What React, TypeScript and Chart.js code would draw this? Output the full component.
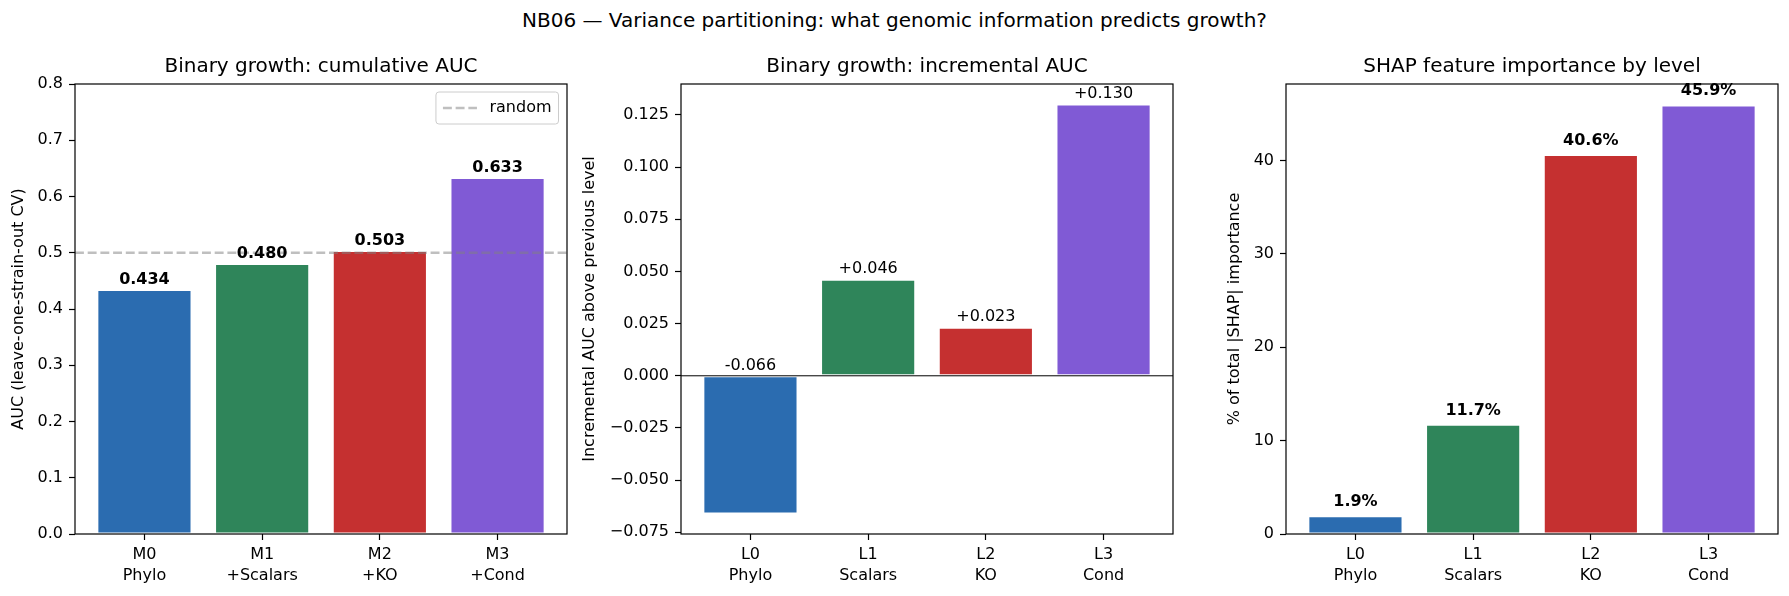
import React, { useEffect, useRef } from "react";
import { Chart, registerables } from "chart.js";

Chart.register(...registerables);

const FONT = '"DejaVu Sans", "Liberation Sans", sans-serif';

const SUPTITLE = "NB06 — Variance partitioning: what genomic information predicts growth?";

// Left panel: cumulative AUC of each nested model
const MODEL_LABELS = ["M0\nPhylo", "M1\n+Scalars", "M2\n+KO", "M3\n+Cond"];
const CUMULATIVE_AUC = [0.434, 0.48, 0.503, 0.633];
const RANDOM_AUC = 0.5;
const AUC_TICKS = [0, 0.1, 0.2, 0.3, 0.4, 0.5, 0.6, 0.7, 0.8];

// Middle panel: AUC gained by each level over the previous one
const LEVEL_LABELS = ["L0\nPhylo", "L1\nScalars", "L2\nKO", "L3\nCond"];
const INCREMENTAL_AUC = [-0.066, 0.046, 0.023, 0.13];
const INCREMENT_TICKS = [-0.075, -0.05, -0.025, 0, 0.025, 0.05, 0.075, 0.1, 0.125];

// Right panel: share of total |SHAP| per feature level
const SHAP_PCT = [1.9, 11.7, 40.6, 45.9];
const SHAP_TICKS = [0, 10, 20, 30, 40];

const LEVEL_COLORS = ["#2B6CB0", "#2F855A", "#C53030", "#805AD5"];

const CANVAS_H = 596;
const TICK_FONT = 16;
const TITLE_FONT = 20;

type RefLine = { y: number; color: string; width: number; dash: number[]; label: string };

type PanelSpec = {
  left: number;
  yAxisWidth: number;
  plotWidth: number;
  yTitlePad: number;
  title: string;
  yTitle: string;
  labels: string[];
  values: number[];
  yMin: number;
  yMax: number;
  yTicks: number[];
  yTickFormat: (v: number) => string;
  valueFormat: (v: number) => string;
  valueBold: boolean;
  valueOffset: number;
  lines: RefLine[];
  legend: boolean;
};

const minusSign = (v: number, digits: number) =>
  (v < -1e-12 ? "\u2212" : "") + Math.abs(v).toFixed(digits);

// matplotlib-style autoscaling with a 5% margin around the data
function paddedRange(vals: number[]) {
  const lo = Math.min(0, ...vals);
  const hi = Math.max(0, ...vals);
  const m = 0.05 * (hi - lo);
  return { lo: lo < 0 ? lo - m : 0, hi: hi + m };
}

const incRange = paddedRange(INCREMENTAL_AUC);
const shapRange = paddedRange(SHAP_PCT);

const PANELS: PanelSpec[] = [
  {
    left: 0,
    yAxisWidth: 75,
    plotWidth: 492,
    yTitlePad: 9.4,
    title: "Binary growth: cumulative AUC",
    yTitle: "AUC (leave-one-strain-out CV)",
    labels: MODEL_LABELS,
    values: CUMULATIVE_AUC,
    yMin: 0,
    yMax: 0.8,
    yTicks: AUC_TICKS,
    yTickFormat: (v) => v.toFixed(1),
    valueFormat: (v) => v.toFixed(3),
    valueBold: true,
    valueOffset: 6,
    lines: [{ y: RANDOM_AUC, color: "rgba(128,128,128,0.5)", width: 2.4, dash: [8.9, 3.8], label: "random" }],
    legend: true,
  },
  {
    left: 570,
    yAxisWidth: 111,
    plotWidth: 492,
    yTitlePad: 10.4,
    title: "Binary growth: incremental AUC",
    yTitle: "Incremental AUC above previous level",
    labels: LEVEL_LABELS,
    values: INCREMENTAL_AUC,
    yMin: incRange.lo,
    yMax: incRange.hi,
    yTicks: INCREMENT_TICKS,
    yTickFormat: (v) => minusSign(v, 3),
    valueFormat: (v) => (v >= 0 ? "+" : "-") + Math.abs(v).toFixed(3),
    valueBold: false,
    valueOffset: 6.5,
    lines: [{ y: 0, color: "#000000", width: 1, dash: [], label: "zero" }],
    legend: false,
  },
  {
    left: 1211,
    yAxisWidth: 75,
    plotWidth: 492,
    yTitlePad: 13.8,
    title: "SHAP feature importance by level",
    yTitle: "% of total |SHAP| importance",
    labels: LEVEL_LABELS,
    values: SHAP_PCT,
    yMin: 0,
    yMax: shapRange.hi,
    yTicks: SHAP_TICKS,
    yTickFormat: (v) => String(Math.round(v)),
    valueFormat: (v) => v.toFixed(1) + "%",
    valueBold: true,
    valueOffset: 10,
    lines: [],
    legend: false,
  },
];

// Draws the four axes spines on top of everything
const framePlugin = {
  id: "frame",
  afterDraw(chart: any) {
    const { ctx, chartArea: a } = chart;
    ctx.save();
    ctx.strokeStyle = "#000";
    ctx.lineWidth = 1.2;
    ctx.strokeRect(a.left, a.top, a.right - a.left, a.bottom - a.top);
    ctx.restore();
  },
};

function valueLabelPlugin(spec: PanelSpec) {
  return {
    id: "valueLabels",
    afterDatasetsDraw(chart: any) {
      const { ctx } = chart;
      const meta = chart.getDatasetMeta(0);
      ctx.save();
      ctx.font = `${spec.valueBold ? "bold " : ""}${TICK_FONT}px ${FONT}`;
      ctx.fillStyle = "#000";
      ctx.textAlign = "center";
      ctx.textBaseline = "alphabetic";
      meta.data.forEach((bar: any, i: number) => {
        const top = Math.min(bar.y, bar.base);
        ctx.fillText(spec.valueFormat(spec.values[i]), bar.x, top - spec.valueOffset);
      });
      ctx.restore();
    },
  };
}

function legendPlugin(spec: PanelSpec) {
  return {
    id: "legendBox",
    afterDraw(chart: any) {
      if (!spec.legend) return;
      const { ctx, chartArea: a } = chart;
      const item = spec.lines[0];
      ctx.save();
      ctx.font = `${TICK_FONT}px ${FONT}`;
      const textW = ctx.measureText(item.label).width;
      const pad = 7;
      const handle = 34;
      const gap = 12.5;
      const w = pad + handle + gap + textW + pad;
      const h = 32;
      const x = a.right - 8.5 - w;
      const y = a.top + 8;
      ctx.beginPath();
      ctx.roundRect(x, y, w, h, 3);
      ctx.fillStyle = "rgba(255,255,255,0.8)";
      ctx.fill();
      ctx.strokeStyle = "#cccccc";
      ctx.lineWidth = 1;
      ctx.stroke();
      const cy = y + h / 2;
      ctx.beginPath();
      ctx.setLineDash(item.dash);
      ctx.strokeStyle = item.color;
      ctx.lineWidth = item.width;
      ctx.moveTo(x + pad, cy);
      ctx.lineTo(x + pad + handle, cy);
      ctx.stroke();
      ctx.setLineDash([]);
      ctx.fillStyle = "#000";
      ctx.textAlign = "left";
      ctx.textBaseline = "middle";
      ctx.fillText(item.label, x + pad + handle + gap, cy);
      ctx.restore();
    },
  };
}

function buildConfig(spec: PanelSpec): any {
  const n = spec.values.length;
  const span = n - 1 + 0.8;
  const xMin = -0.4 - 0.05 * span;
  const xMax = n - 1 + 0.4 + 0.05 * span;

  const tickGrid = {
    display: true,
    drawOnChartArea: false,
    drawTicks: true,
    tickLength: 6,
    tickColor: "#000",
    tickWidth: 1.2,
    offset: false,
  };

  const datasets: any[] = [
    {
      type: "bar",
      label: spec.title,
      data: spec.values.map((v, i) => ({ x: i, y: v })),
      backgroundColor: LEVEL_COLORS,
      borderColor: "#ffffff",
      borderWidth: 1,
      borderSkipped: false,
      categoryPercentage: 1,
      barPercentage: 0.8,
      order: 2,
    },
    ...spec.lines.map((l) => ({
      type: "line",
      label: l.label,
      data: [
        { x: xMin, y: l.y },
        { x: xMax, y: l.y },
      ],
      borderColor: l.color,
      borderWidth: l.width,
      borderDash: l.dash,
      pointRadius: 0,
      fill: false,
      order: 1,
    })),
  ];

  return {
    type: "bar",
    data: { datasets },
    options: {
      responsive: false,
      animation: false,
      devicePixelRatio: 1,
      layout: { padding: { left: 0, right: 2, top: 0, bottom: 0 } },
      plugins: {
        legend: { display: false },
        tooltip: { enabled: false },
        title: {
          display: true,
          fullSize: false,
          text: spec.title,
          color: "#000",
          font: { family: FONT, size: TITLE_FONT, weight: "normal", lineHeight: 1.2 },
          padding: { top: 55.1, bottom: 4.9 },
        },
      },
      scales: {
        x: {
          type: "linear",
          min: xMin,
          max: xMax,
          offset: false,
          grid: tickGrid,
          border: { display: false },
          afterBuildTicks: (s: any) => {
            s.ticks = spec.labels.map((_, i) => ({ value: i }));
          },
          afterFit: (s: any) => {
            s.height = CANVAS_H - 534;
          },
          ticks: {
            autoSkip: false,
            maxRotation: 0,
            padding: 4,
            color: "#000",
            font: { family: FONT, size: TICK_FONT, lineHeight: 1.31 },
            callback: (v: number) => {
              const lab = spec.labels[Math.round(v)];
              return lab ? lab.split("\n") : "";
            },
          },
        },
        y: {
          type: "linear",
          min: spec.yMin,
          max: spec.yMax,
          grid: tickGrid,
          border: { display: false },
          afterBuildTicks: (s: any) => {
            s.ticks = spec.yTicks.map((v) => ({ value: v }));
          },
          afterFit: (s: any) => {
            s.width = spec.yAxisWidth;
          },
          ticks: {
            padding: 6,
            color: "#000",
            font: { family: FONT, size: TICK_FONT },
            callback: (v: number) => spec.yTickFormat(v),
          },
          title: {
            display: true,
            text: spec.yTitle,
            color: "#000",
            font: { family: FONT, size: TICK_FONT, lineHeight: 1.2 },
            padding: { top: spec.yTitlePad, bottom: 0 },
          },
        },
      },
    },
    plugins: [framePlugin, valueLabelPlugin(spec), legendPlugin(spec)],
  };
}

function Panel({ spec }: { spec: PanelSpec }) {
  const ref = useRef<HTMLCanvasElement>(null);
  const width = spec.yAxisWidth + spec.plotWidth + 2;
  useEffect(() => {
    if (!ref.current) return;
    const chart = new Chart(ref.current, buildConfig(spec));
    return () => chart.destroy();
  }, [spec]);
  return (
    <canvas
      ref={ref}
      width={width}
      height={CANVAS_H}
      style={{ position: "absolute", left: spec.left, top: 0, width, height: CANVAS_H }}
    />
  );
}

export default function App() {
  return (
    <div
      style={{
        position: "absolute",
        left: 0,
        top: 0,
        width: 1789,
        height: CANVAS_H,
        overflow: "hidden",
        background: "#ffffff",
        fontFamily: FONT,
      }}
    >
      <div
        style={{
          position: "absolute",
          left: 0,
          top: 8,
          width: 1789,
          textAlign: "center",
          fontSize: TITLE_FONT,
          lineHeight: "24px",
          color: "#000",
          whiteSpace: "nowrap",
        }}
      >
        {SUPTITLE}
      </div>
      {PANELS.map((p) => (
        <Panel key={p.title} spec={p} />
      ))}
    </div>
  );
}
